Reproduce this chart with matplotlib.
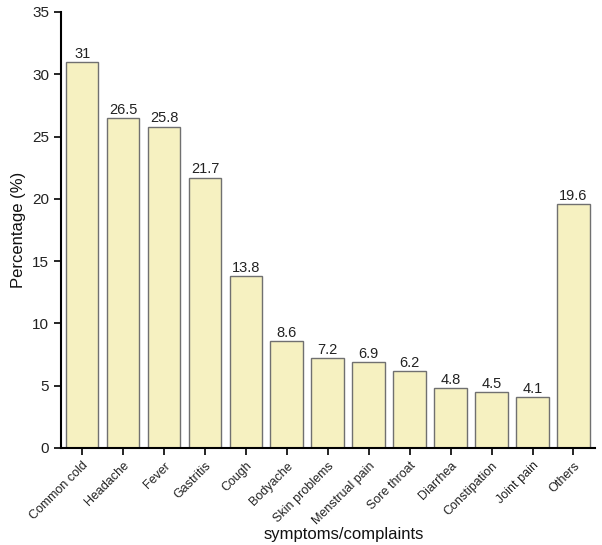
import matplotlib
matplotlib.use("Agg")
import matplotlib.pyplot as plt

categories = ["Common cold", "Headache", "Fever", "Gastritis", "Cough", "Bodyache",
              "Skin problems", "Menstrual pain", "Sore throat", "Diarrhea",
              "Constipation", "Joint pain", "Others"]
values = [31, 26.5, 25.8, 21.7, 13.8, 8.6, 7.2, 6.9, 6.2, 4.8, 4.5, 4.1, 19.6]
labels = ["31", "26.5", "25.8", "21.7", "13.8", "8.6", "7.2", "6.9", "6.2", "4.8", "4.5", "4.1", "19.6"]
yticks = [0, 5, 10, 15, 20, 25, 30, 35]

plt.rcParams['font.family'] = ['Liberation Sans', 'DejaVu Sans']

fig = plt.figure(figsize=(6.02, 5.45), dpi=100)
ax = fig.add_axes([0.101, 0.178, 0.887, 0.800])

x = list(range(len(categories)))
ax.bar(x, values, width=0.8, color="#F6F1C1", edgecolor="#707070", linewidth=1.0)
for xi, v, lab in zip(x, values, labels):
    ax.text(xi, v + 0.1, lab, ha="center", va="bottom", fontsize=10.5, color="#222222")

ax.set_xlim(-0.52, 12.52)
ax.set_ylim(0, 35)
ax.set_yticks(yticks)
ax.set_xticks(x)
ax.set_xticklabels(categories, rotation=45, ha="right", rotation_mode="anchor", fontsize=9, color="#222222")
ax.tick_params(axis="y", labelsize=11, direction="out", length=5, width=1.2, labelcolor="#222222")
ax.tick_params(axis="x", direction="out", length=5, width=1.2)
for s in ["top", "right"]:
    ax.spines[s].set_visible(False)
for s in ["left", "bottom"]:
    ax.spines[s].set_linewidth(1.5)
ax.set_ylabel("Percentage (%)", fontsize=12, color="#111111")
ax.set_xlabel("symptoms/complaints", fontsize=12, labelpad=0, color="#111111")
ax.xaxis.label.set_x(0.53)

fig.savefig("out.png", dpi=100)
